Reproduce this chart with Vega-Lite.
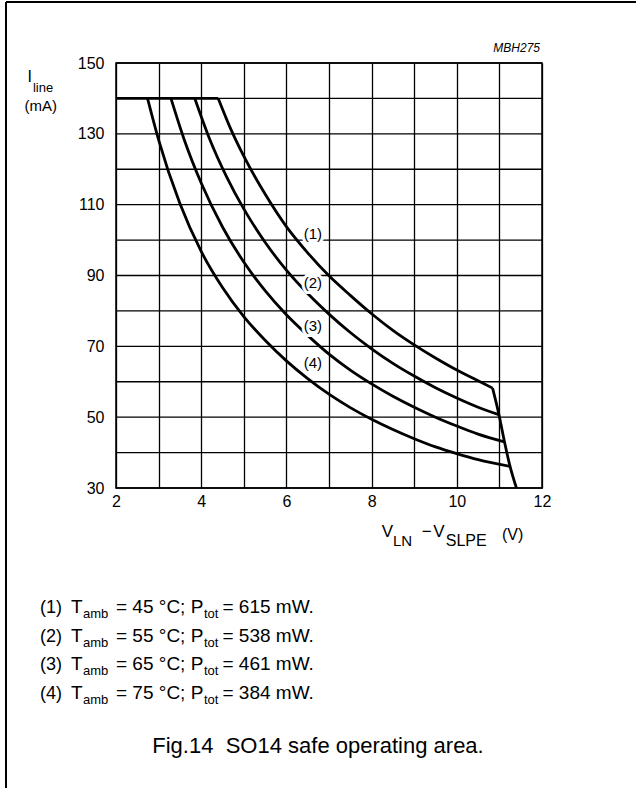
{
  "$schema": "https://vega.github.io/schema/vega-lite/v6.json",
  "width": 426,
  "height": 425,
  "autosize": {"type": "none"},
  "padding": {"left": 116, "top": 63, "right": 94, "bottom": 300},
  "background": "white",
  "config": {
    "view": {"stroke": "black", "strokeWidth": 1.5},
    "text": {"font": "Liberation Sans", "color": "black"}
  },
  "datasets": {
    "hgrid": [
      {"i": 30}, {"i": 40}, {"i": 50}, {"i": 60}, {"i": 70}, {"i": 80}, {"i": 90},
      {"i": 100}, {"i": 110}, {"i": 120}, {"i": 130}, {"i": 140}, {"i": 150}
    ],
    "curves": [
      {"s": "cap", "v": 2, "i": 140}, {"s": "cap", "v": 4.4, "i": 140},
      {"s": "1", "v": 4.4, "i": 140}, {"s": "1", "v": 4.7, "i": 131.2}, {"s": "1", "v": 5.0, "i": 123.7}, {"s": "1", "v": 5.5, "i": 113.0}, {"s": "1", "v": 6.0, "i": 103.8}, {"s": "1", "v": 6.5, "i": 96.4}, {"s": "1", "v": 7.0, "i": 89.9}, {"s": "1", "v": 7.5, "i": 84.4}, {"s": "1", "v": 8.0, "i": 79.2}, {"s": "1", "v": 8.5, "i": 74.5}, {"s": "1", "v": 9.0, "i": 70.4}, {"s": "1", "v": 9.5, "i": 66.7}, {"s": "1", "v": 10.0, "i": 63.3}, {"s": "1", "v": 10.5, "i": 60.3}, {"s": "1", "v": 10.84, "i": 58.2},
      {"s": "2", "v": 3.85, "i": 140}, {"s": "2", "v": 4.2, "i": 128.5}, {"s": "2", "v": 4.6, "i": 117.8}, {"s": "2", "v": 5.0, "i": 108.8}, {"s": "2", "v": 5.5, "i": 99.4}, {"s": "2", "v": 6.0, "i": 91.5}, {"s": "2", "v": 6.5, "i": 84.9}, {"s": "2", "v": 7.0, "i": 79.1}, {"s": "2", "v": 7.5, "i": 73.9}, {"s": "2", "v": 8.0, "i": 69.3}, {"s": "2", "v": 8.5, "i": 65.2}, {"s": "2", "v": 9.0, "i": 61.6}, {"s": "2", "v": 9.5, "i": 58.3}, {"s": "2", "v": 10.0, "i": 55.4}, {"s": "2", "v": 10.5, "i": 52.8}, {"s": "2", "v": 10.99, "i": 50.7},
      {"s": "3", "v": 3.29, "i": 140}, {"s": "3", "v": 3.6, "i": 128.4}, {"s": "3", "v": 4.0, "i": 116.1}, {"s": "3", "v": 4.5, "i": 103.7}, {"s": "3", "v": 5.0, "i": 93.8}, {"s": "3", "v": 5.5, "i": 85.7}, {"s": "3", "v": 6.0, "i": 78.9}, {"s": "3", "v": 6.5, "i": 73.1}, {"s": "3", "v": 7.0, "i": 67.8}, {"s": "3", "v": 7.5, "i": 63.3}, {"s": "3", "v": 8.0, "i": 59.4}, {"s": "3", "v": 8.5, "i": 55.9}, {"s": "3", "v": 9.0, "i": 52.8}, {"s": "3", "v": 9.5, "i": 50.0}, {"s": "3", "v": 10.0, "i": 47.5}, {"s": "3", "v": 10.5, "i": 45.2}, {"s": "3", "v": 11.12, "i": 43.0},
      {"s": "4", "v": 2.74, "i": 140}, {"s": "4", "v": 3.0, "i": 128.3}, {"s": "4", "v": 3.5, "i": 110.3}, {"s": "4", "v": 4.0, "i": 96.8}, {"s": "4", "v": 4.5, "i": 86.6}, {"s": "4", "v": 5.0, "i": 78.4}, {"s": "4", "v": 5.5, "i": 71.7}, {"s": "4", "v": 6.0, "i": 65.9}, {"s": "4", "v": 6.5, "i": 60.9}, {"s": "4", "v": 7.0, "i": 56.5}, {"s": "4", "v": 7.5, "i": 52.7}, {"s": "4", "v": 8.0, "i": 49.4}, {"s": "4", "v": 8.5, "i": 46.5}, {"s": "4", "v": 9.0, "i": 43.9}, {"s": "4", "v": 9.5, "i": 41.6}, {"s": "4", "v": 10.0, "i": 39.7}, {"s": "4", "v": 10.5, "i": 38.0}, {"s": "4", "v": 11.25, "i": 36.1},
      {"s": "limit", "v": 10.84, "i": 58.2}, {"s": "limit", "v": 10.99, "i": 50.7}, {"s": "limit", "v": 11.12, "i": 43.0}, {"s": "limit", "v": 11.25, "i": 36.1}, {"s": "limit", "v": 11.4, "i": 30}
    ],
    "labels": [
      {"label": "(1)", "v": 6.62, "i": 101.7},
      {"label": "(2)", "v": 6.62, "i": 88.0},
      {"label": "(3)", "v": 6.62, "i": 75.7},
      {"label": "(4)", "v": 6.62, "i": 65.4}
    ]
  },
  "layer": [
    {
      "data": {"name": "hgrid"},
      "mark": {"type": "rule", "stroke": "black", "strokeWidth": 1.3},
      "encoding": {"y": {"field": "i", "type": "quantitative"}}
    },
    {
      "data": {"name": "curves"},
      "mark": {"type": "line", "stroke": "black", "strokeWidth": 2.8, "interpolate": "monotone"},
      "encoding": {
        "x": {
          "field": "v", "type": "quantitative",
          "scale": {"domain": [2, 12], "nice": false, "zero": false},
          "axis": {
            "values": [2, 3, 4, 5, 6, 7, 8, 9, 10, 11, 12],
            "grid": true, "gridColor": "black", "gridWidth": 1.3, "gridOpacity": 1,
            "domain": false, "ticks": false,
            "labelExpr": "datum.value % 2 == 0 ? datum.label : ''",
            "labelFont": "Liberation Sans", "labelFontSize": 16, "labelColor": "black",
            "labelPadding": 5, "labelFlush": false, "labelOverlap": false,
            "title": null
          }
        },
        "y": {
          "field": "i", "type": "quantitative",
          "scale": {"domain": [30, 150], "nice": false, "zero": false},
          "axis": {
            "values": [30, 50, 70, 90, 110, 130, 150],
            "grid": false,
            "domain": false, "ticks": false,
            "labelFont": "Liberation Sans", "labelFontSize": 16, "labelColor": "black",
            "labelPadding": 12, "labelFlush": false, "labelOverlap": false,
            "title": null
          }
        },
        "detail": {"field": "s"}
      }
    },
    {
      "data": {"name": "labels"},
      "mark": {"type": "text", "fontSize": 15, "align": "center", "baseline": "middle", "stroke": "white", "strokeWidth": 6, "fill": "white"},
      "encoding": {"x": {"field": "v", "type": "quantitative"}, "y": {"field": "i", "type": "quantitative"}, "text": {"field": "label"}}
    },
    {
      "data": {"name": "labels"},
      "mark": {"type": "text", "fontSize": 15, "align": "center", "baseline": "middle"},
      "encoding": {"x": {"field": "v", "type": "quantitative"}, "y": {"field": "i", "type": "quantitative"}, "text": {"field": "label"}}
    },
    {
      "data": {"values": [{}]},
      "mark": {"type": "rule", "stroke": "black", "strokeWidth": 2},
      "encoding": {"x": {"datum": -0.582}, "y": {"datum": 167.2}, "y2": {"datum": -54.7}}
    },
    {
      "data": {"values": [{}]},
      "mark": {"type": "rule", "stroke": "black", "strokeWidth": 2},
      "encoding": {"x": {"datum": -0.582}, "x2": {"datum": 14.21}, "y": {"datum": 167.2}}
    },
    {
      "data": {"values": [{}]},
      "mark": {"type": "text", "text": "MBH275", "fontSize": 12, "fontStyle": "italic", "align": "right", "baseline": "alphabetic"},
      "encoding": {"x": {"datum": 11.953}, "y": {"datum": 153.1}}
    },
    {
      "data": {"values": [{}]},
      "mark": {"type": "text", "text": "I", "fontSize": 16, "align": "left", "baseline": "alphabetic"},
      "encoding": {"x": {"datum": -0.08}, "y": {"datum": 144.6}}
    },
    {
      "data": {"values": [{}]},
      "mark": {"type": "text", "text": "line", "fontSize": 13, "align": "left", "baseline": "alphabetic"},
      "encoding": {"x": {"datum": 0.05}, "y": {"datum": 141.8}}
    },
    {
      "data": {"values": [{}]},
      "mark": {"type": "text", "text": "(mA)", "fontSize": 15, "align": "left", "baseline": "alphabetic"},
      "encoding": {"x": {"datum": -0.15}, "y": {"datum": 136.4}}
    },
    {
      "data": {"values": [{}]},
      "mark": {"type": "text", "text": "V", "fontSize": 17, "align": "left", "baseline": "alphabetic"},
      "encoding": {"x": {"datum": 8.237}, "y": {"datum": 16.17}}
    },
    {
      "data": {"values": [{}]},
      "mark": {"type": "text", "text": "LN", "fontSize": 15, "align": "left", "baseline": "alphabetic", "dy": 9},
      "encoding": {"x": {"datum": 8.5}, "y": {"datum": 16.17}}
    },
    {
      "data": {"values": [{}]},
      "mark": {"type": "text", "text": "−", "fontSize": 17, "align": "left", "baseline": "alphabetic"},
      "encoding": {"x": {"datum": 9.176}, "y": {"datum": 16.17}}
    },
    {
      "data": {"values": [{}]},
      "mark": {"type": "text", "text": "V", "fontSize": 17, "align": "left", "baseline": "alphabetic"},
      "encoding": {"x": {"datum": 9.448}, "y": {"datum": 16.17}}
    },
    {
      "data": {"values": [{}]},
      "mark": {"type": "text", "text": "SLPE", "fontSize": 16, "align": "left", "baseline": "alphabetic", "dy": 9},
      "encoding": {"x": {"datum": 9.74}, "y": {"datum": 16.17}}
    },
    {
      "data": {"values": [{}]},
      "mark": {"type": "text", "text": "(V)", "fontSize": 16, "align": "left", "baseline": "alphabetic", "dy": 3},
      "encoding": {"x": {"datum": 11.06}, "y": {"datum": 16.17}}
    },
    {
      "data": {"values": [{}]},
      "mark": {"type": "text", "text": ["(1)", "(2)", "(3)", "(4)"], "fontSize": 18, "lineHeight": 28.6, "align": "left", "baseline": "alphabetic"},
      "encoding": {"x": {"datum": 0.216}, "y": {"datum": -5.29}}
    },
    {
      "data": {"values": [{}]},
      "mark": {"type": "text", "text": ["T", "T", "T", "T"], "fontSize": 19, "lineHeight": 28.6, "align": "left", "baseline": "alphabetic"},
      "encoding": {"x": {"datum": 0.944}, "y": {"datum": -5.29}}
    },
    {
      "data": {"values": [{}]},
      "mark": {"type": "text", "text": ["amb", "amb", "amb", "amb"], "fontSize": 13, "lineHeight": 28.6, "align": "left", "baseline": "alphabetic", "dy": 5},
      "encoding": {"x": {"datum": 1.225}, "y": {"datum": -5.29}}
    },
    {
      "data": {"values": [{}]},
      "mark": {"type": "text", "text": ["= 45 °C; P", "= 55 °C; P", "= 65 °C; P", "= 75 °C; P"], "fontSize": 19, "lineHeight": 28.6, "align": "left", "baseline": "alphabetic"},
      "encoding": {"x": {"datum": 2.0}, "y": {"datum": -5.29}}
    },
    {
      "data": {"values": [{}]},
      "mark": {"type": "text", "text": ["tot", "tot", "tot", "tot"], "fontSize": 13, "lineHeight": 28.6, "align": "left", "baseline": "alphabetic", "dy": 5},
      "encoding": {"x": {"datum": 4.066}, "y": {"datum": -5.29}}
    },
    {
      "data": {"values": [{}]},
      "mark": {"type": "text", "text": ["= 615 mW.", "= 538 mW.", "= 461 mW.", "= 384 mW."], "fontSize": 19, "lineHeight": 28.6, "align": "left", "baseline": "alphabetic"},
      "encoding": {"x": {"datum": 4.5}, "y": {"datum": -5.29}}
    },
    {
      "data": {"values": [{}]},
      "mark": {"type": "text", "text": "Fig.14\u00a0\u00a0SO14 safe operating area.", "fontSize": 22, "align": "center", "baseline": "alphabetic"},
      "encoding": {"x": {"datum": 6.742}, "y": {"datum": -44.82}}
    }
  ]
}
